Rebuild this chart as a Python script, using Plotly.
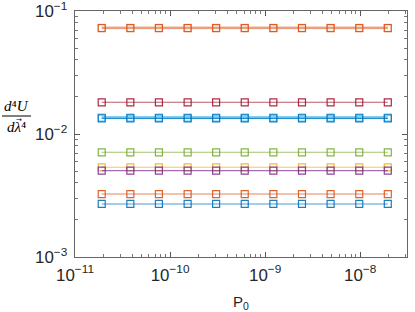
import plotly.graph_objects as go

p0 = [1.91e-11, 3.82e-11, 7.63e-11, 1.53e-10, 3.05e-10, 6.10e-10,
      1.22e-9, 2.44e-9, 4.88e-9, 9.77e-9, 1.95e-8]

s1_blue = [0.00270] * 11
s2_orange = [0.00325] * 11
s3_yellow = [0.00536] * 11
s4_purple = [0.00504] * 11
s5_green = [0.00710] * 11
s6_lightblue = [0.0136] * 11
s7_darkred = [0.0181] * 11
s8_blue = [0.0134] * 11
s9_orange = [0.0727] * 11
s10_peach = [0.0730] * 11

series = [
    (s1_blue, "0,114,189"),
    (s2_orange, "217,83,25"),
    (s3_yellow, "237,177,32"),
    (s4_purple, "126,47,142"),
    (s5_green, "119,172,48"),
    (s6_lightblue, "77,190,238"),
    (s7_darkred, "162,20,47"),
    (s10_peach, "240,180,150"),
    (s8_blue, "0,114,189"),
    (s9_orange, "217,83,25"),
]

fig = go.Figure()
for vals, rgb in series:
    wide = rgb in ("77,190,238", "240,180,150")
    fig.add_trace(go.Scatter(
        x=p0, y=vals, mode="lines+markers",
        line=dict(color=f"rgba({rgb},0.7)", width=3 if wide else 1.1),
        marker=dict(symbol="square-open", size=7,
                    color=f"rgba({rgb},0.9)", line=dict(width=1.2)),
        showlegend=False,
    ))

axis_common = dict(
    type="log", showgrid=False, zeroline=False, automargin=False,
    showline=True, linecolor="#666666", linewidth=1, mirror="allticks",
    ticks="inside", ticklen=5, tickcolor="#555555", tickwidth=1,
    exponentformat="power", dtick=1, ticklabeloverflow="allow",
    tickfont=dict(family="Liberation Sans, Arial", size=13.5, color="#262626"),
    minor=dict(ticks="inside", ticklen=3, tickcolor="#777777", tickwidth=1, dtick="D1"),
)

fig.update_xaxes(**axis_common, range=[-11, -7.508], ticklabelstandoff=3,
                 title=dict(text="P<sub>0</sub>",
                            font=dict(family="Liberation Sans, Arial", size=15, color="#262626")))
fig.update_yaxes(**axis_common, range=[-3, -1], ticklabelstandoff=4)

H = 246.0
W = 332.0
serif = dict(family="Liberation Serif, Times New Roman", size=15, color="#000")
fig.add_annotation(xref="paper", yref="paper", x=(16 - 75) / W, y=(257 - 106) / H,
                   xanchor="center", yanchor="middle",
                   text="<i>d</i>⁴<i>U</i>", showarrow=False, font=serif)
fig.add_annotation(xref="paper", yref="paper", x=(16 - 75) / W, y=(257 - 127) / H,
                   xanchor="center", yanchor="middle",
                   text="<i>dλ</i>⁴", showarrow=False, font=serif)
fig.add_annotation(xref="paper", yref="paper", x=(18.5 - 75) / W, y=(257 - 120) / H,
                   xanchor="center", yanchor="middle",
                   text="→", showarrow=False,
                   font=dict(family="DejaVu Sans", size=7, color="#000"))
fig.add_shape(type="line", xref="paper", yref="paper",
              x0=(2 - 75) / W, x1=(31 - 75) / W,
              y0=(257 - 116) / H, y1=(257 - 116) / H,
              line=dict(color="#000", width=1))

fig.update_layout(
    width=415, height=312,
    margin=dict(l=75, r=8, t=11, b=55, autoexpand=False),
    plot_bgcolor="white", paper_bgcolor="white",
)
fig.write_html("out.html", config={"displayModeBar": False},
               post_script="document.body.style.margin='0';")
